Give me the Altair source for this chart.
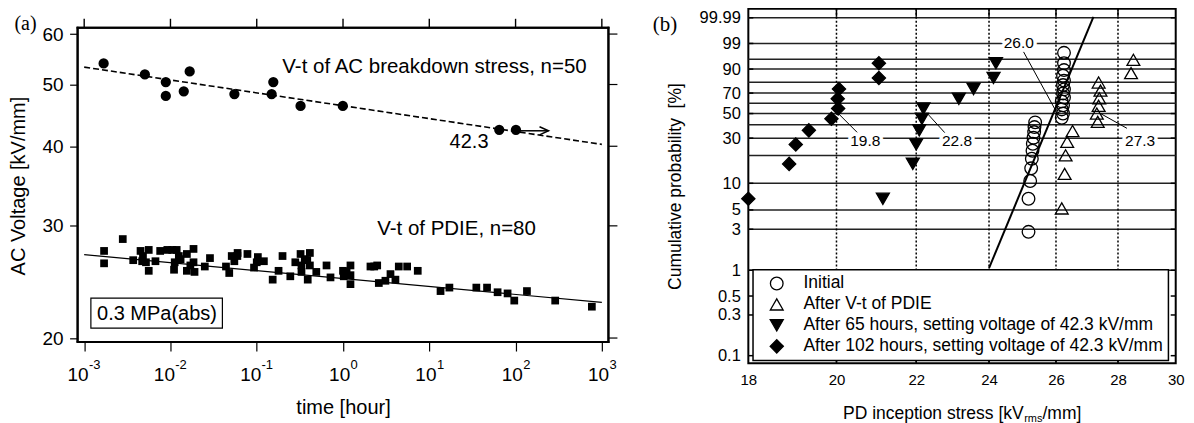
import math
import altair as alt
import pandas as pd

SANS = "Liberation Sans, Arial, Helvetica, sans-serif"
SERIF = "Liberation Serif, Times New Roman, serif"

# ================= panel (a) data =================
bd_t = [0.00168, 0.00505, 0.00883, 0.00883, 0.01426, 0.0167, 0.0551, 0.1488, 0.1556, 0.322, 0.995, 64.7, 101.0]
bd_v = [53.95, 51.86, 50.45, 47.97, 48.78, 52.42, 48.3, 48.3, 50.45, 46.27, 46.27, 42.44, 42.44]
bd_fit_t = [0.001, 1000.0]
bd_fit_v = [53.25, 40.27]

pd_t = [0.0017, 0.0017, 0.0028, 0.0037, 0.0045, 0.0047, 0.0052, 0.0056, 0.0056, 0.0067,
        0.0076, 0.0092, 0.0118, 0.0110, 0.0112, 0.0131, 0.0155, 0.0155, 0.0185, 0.0185,
        0.019, 0.025, 0.0287, 0.044, 0.048, 0.0513, 0.0596, 0.055, 0.078, 0.093,
        0.103, 0.121, 0.153, 0.179, 0.199, 0.245, 0.28, 0.322, 0.33, 0.385,
        0.39, 0.36, 0.413, 0.413, 0.49, 0.644, 0.716, 1.0, 1.02, 1.22,
        1.22, 1.22, 2.08, 2.49, 2.6, 3.1, 3.55, 4.05, 4.43, 5.54,
        7.35, 13.5, 17.1, 35.1, 46.7, 61.9, 80.8, 96.6, 135.5, 288.0,
        766.0, 0.0048, 0.0125, 0.017, 0.06, 0.33, 0.1, 1.1, 0.0105, 2.3]
pd_v = [27.4, 26.2, 28.6, 26.5, 27.4, 26.4, 26.3, 27.5, 25.5, 26.4,
        27.4, 27.5, 27.5, 25.6, 26.3, 26.6, 25.5, 27.1, 27.6, 26.3,
        25.4, 25.9, 26.7, 25.9, 25.3, 26.9, 26.9, 26.4, 27.1, 25.8,
        26.8, 26.4, 24.7, 25.5, 26.9, 25.0, 26.3, 27.1, 25.4, 26.5,
        24.7, 26.6, 27.2, 26.0, 25.4, 26.0, 24.9, 25.5, 25.0, 26.0,
        25.1, 24.3, 25.9, 26.0, 24.4, 24.6, 25.2, 24.7, 25.9, 25.9,
        25.5, 23.7, 24.0, 24.0, 24.0, 23.6, 23.5, 22.9, 23.7, 22.9,
        22.4, 26.9, 26.9, 26.0, 27.2, 26.0, 26.3, 25.4, 27.5, 25.9]
pd_fit_t = [0.001, 1000.0]
pd_fit_v = [27.03, 22.75]

arrow_t = [113.0, 241.0]
arrow_v = [42.3, 42.3]

decades = [0.001, 0.01, 0.1, 1, 10, 100, 1000]
dec_exp = ["-3", "-2", "-1", "0", "1", "2", "3"]
volt_ticks = [20, 30, 40, 50, 60]

ann_a_text = ["V-t of AC breakdown stress, n=50", "V-t of PDIE, n=80"]
ann_a_t = [0.1978, 2.488]
ann_a_v = [53.33, 29.69]
val_a_text = ["42.3"]
val_a_t = [28.9]
val_a_v = [40.68]

# ================= panel (b) data =================
series_names = ["Initial", "After V-t of PDIE",
                "After 65 hours, setting voltage of 42.3 kV/mm",
                "After 102 hours, setting voltage of 42.3 kV/mm"]

init_x = [25.16, 25.16, 25.21, 25.24, 25.26, 25.28, 25.29, 25.31, 25.33, 25.34, 25.36,
          26.18, 26.22, 26.18, 26.22, 26.18, 26.25, 26.22, 26.25, 26.22, 26.25, 26.22, 26.25, 26.25, 26.25]
init_F = [2.8, 6.7, 10.6, 14.6, 18.5, 22.4, 26.4, 30.3, 34.3, 38.2, 42.1, 46.1, 50.0,
          53.9, 57.9, 61.8, 65.7, 69.7, 73.6, 77.6, 81.5, 85.4, 89.4, 93.3, 97.2]
vt_x = [26.18, 26.27, 26.3, 26.35, 26.52, 27.33, 27.3, 27.36, 27.38, 27.42, 27.36, 28.44, 28.52]
vt_F = [5.2, 12.7, 20.1, 27.6, 35.1, 42.5, 50.0, 57.5, 64.9, 72.4, 79.9, 87.3, 94.8]
h65_x = [21.14, 21.91, 22.0, 22.08, 22.15, 22.19, 23.15, 23.56, 24.13, 24.2]
h65_F = [6.7, 16.3, 26.0, 35.6, 45.2, 54.8, 64.4, 74.0, 83.7, 93.3]
h102_x = [18.0, 18.9, 19.05, 19.35, 19.88, 20.04, 20.03, 20.06, 21.04, 21.04]
h102_F = [6.7, 16.3, 26.0, 35.6, 45.2, 54.8, 64.4, 74.0, 83.7, 93.3]

fit_x = [24.0, 27.19]
fit_F = [1.06, 99.992]

lab_text = ["19.8", "22.8", "26.0", "27.3"]
lab_x = [20.7, 23.1, 24.87, 28.75]
lab_F = [28.4, 28.4, 99.05, 28.4]
lead_x1 = [20.04, 22.29, 25.01, 27.41]
lead_F1 = [50.2, 50.2, 97.48, 50.2]
lead_x2 = [20.5, 22.82, 25.98, 28.3]
lead_F2 = [34.1, 32.2, 53.4, 37.2]

prob_grid = [99.99, 99, 95, 90, 80, 70, 60, 50, 40, 30, 20, 10, 5, 3, 1]
prob_labels = [99.99, 99, 90, 70, 50, 30, 10, 5, 3, 1, 0.5, 0.3, 0.1]
stress_ticks = [18, 20, 22, 24, 26, 28, 30]
stress_grid = [20, 22, 24, 26, 28]

# ================= layout constants =================
W1 = 531.6                 # panel (a) plot width
W2, H2 = 428.0, 355.0      # panel (b) plot size (also the cell height of panel a)
TOP1, BOT1 = 19.0, 333.7   # panel (a) plot area inside its cell
T_MIN, T_MAX = 10 ** -3.0764, 10 ** 3.0764
V_MIN, V_MAX = 19.714, 61.38
V_TICKMID = V_MAX * 10 ** (4.5 / 638.0)   # centre of the 9 px outward top ticks
FW = 1.0                                  # half frame thickness

# ================= panel (a) =================
axis_xa = alt.Axis(values=decades, labels=False, ticks=True, tickSize=9, tickWidth=1.2,
                   tickColor="black", domain=False, grid=False, offset=-(H2 - BOT1),
                   title="time [hour]", titleFont=SANS, titleFontSize=20,
                   titleFontWeight="normal", titleColor="black", titleY=66,
                   titleBaseline="middle")
X_A = alt.X("t:Q", scale=alt.Scale(type="log", domain=[T_MIN, T_MAX], nice=False), axis=axis_xa)
axis_ya = alt.Axis(values=volt_ticks, format="d", tickSize=8, tickWidth=1.2, tickColor="black",
                   domain=False, grid=False, labelFont=SANS, labelFontSize=19, labelColor="black",
                   labelPadding=6.5, labelOverlap=False, title="AC Voltage [kV/mm]", titleFont=SANS,
                   titleFontSize=20, titleFontWeight="normal", titleColor="black",
                   titleX=-59.5, titleY=177, titleBaseline="middle")
Y_A = alt.Y("v:Q", scale=alt.Scale(type="log", domain=[V_MIN, V_MAX], nice=False,
                                    range=[BOT1, TOP1]), axis=axis_ya)

df_dec = pd.DataFrame({"t": decades, "e": dec_exp})
df_volt = pd.DataFrame({"v": volt_ticks})
one = pd.DataFrame({"k": [0]})

# plot frame: closed path through the domain corners ...
df_frame = pd.DataFrame({
    "i": [0, 1, 2, 3, 4],
    "t": [T_MIN, T_MIN, T_MAX, T_MAX, T_MIN],
    "v": [V_MIN, V_MAX, V_MAX, V_MIN, V_MIN],
})
frame_line = alt.Chart(df_frame).mark_line(color="black", strokeWidth=2, strokeJoin="miter").encode(
    x=X_A, y=Y_A, order="i:Q")

# ... reinforced by four thin filled bars on the plot box edges
def bar(x1, x2, y1, y2):
    return alt.Chart(one).mark_rect(fill="black", strokeWidth=0).encode(
        x=alt.value(x1), x2=alt.value(x2), y=alt.value(y1), y2=alt.value(y2))

frame_bars = [
    bar(-FW, W1 + FW, TOP1 - FW, TOP1 + FW),
    bar(-FW, W1 + FW, BOT1 - FW, BOT1 + FW),
    bar(-FW, FW, TOP1 - FW, BOT1 + FW),
    bar(W1 - FW, W1 + FW, TOP1 - FW, BOT1 + FW),
]

# outward ticks on the top edge
top_ticks = alt.Chart(pd.DataFrame({"t": decades, "v": [V_TICKMID] * len(decades)})).mark_point(
    shape="M0,1L0,-1", filled=False, stroke="black", strokeWidth=1.4, size=81, opacity=1).encode(
    x=X_A, y=Y_A)
right_ticks = alt.Chart(df_volt).mark_rule(color="black", strokeWidth=1.2).encode(
    y=Y_A, x=alt.value(W1), x2=alt.value(W1 + 9))

bd_fit = alt.Chart(pd.DataFrame({"t": bd_fit_t, "v": bd_fit_v})).mark_line(
    color="black", strokeWidth=1.6, strokeDash=[6, 3]).encode(x=X_A, y=Y_A)
pd_fit = alt.Chart(pd.DataFrame({"t": pd_fit_t, "v": pd_fit_v})).mark_line(
    color="black", strokeWidth=1.2).encode(x=X_A, y=Y_A)
bd_pts = alt.Chart(pd.DataFrame({"t": bd_t, "v": bd_v})).mark_circle(
    color="black", size=106, opacity=1).encode(x=X_A, y=Y_A)
pd_pts = alt.Chart(pd.DataFrame({"t": pd_t, "v": pd_v})).mark_square(
    color="black", size=60, opacity=1).encode(x=X_A, y=Y_A)

df_arrow = pd.DataFrame({"t": arrow_t, "v": arrow_v})
arrow_line = alt.Chart(df_arrow).mark_line(color="black", strokeWidth=1.5).encode(x=X_A, y=Y_A)
arrow_head = alt.Chart(df_arrow.tail(1)).mark_point(
    shape="M-1,-0.45L0,0L-1,0.45", filled=False, stroke="black", strokeWidth=1.5,
    size=324, opacity=1).encode(x=X_A, y=Y_A)

ann_a = alt.Chart(pd.DataFrame({"t": ann_a_t, "v": ann_a_v, "s": ann_a_text})).mark_text(
    font=SANS, fontSize=20.5, align="left", baseline="middle", color="black").encode(
    x=X_A, y=Y_A, text="s:N")
val_a = alt.Chart(pd.DataFrame({"t": val_a_t, "v": val_a_v, "s": val_a_text})).mark_text(
    font=SANS, fontSize=20, align="center", baseline="middle", color="black").encode(
    x=X_A, y=Y_A, text="s:N")

box_rect = alt.Chart(one).mark_rect(fill="white", stroke="black", strokeWidth=1.2).encode(
    x=alt.value(13.3), x2=alt.value(145), y=alt.value(TOP1 + 270.7), y2=alt.value(TOP1 + 300.7))
box_text = alt.Chart(pd.DataFrame({"s": ["0.3 MPa(abs)"]})).mark_text(
    font=SANS, fontSize=20, align="center", baseline="middle", color="black").encode(
    x=alt.value(79.5), y=alt.value(TOP1 + 286.5), text="s:N")

neg = df_dec[df_dec["e"].str.startswith("-")]
pos = df_dec[~df_dec["e"].str.startswith("-")]
lab10_neg = alt.Chart(neg.assign(b="10")).mark_text(
    font=SANS, fontSize=19, align="right", baseline="middle", dx=4.5, color="black").encode(
    x=X_A, y=alt.value(BOT1 + 32.6), text="b:N")
labe_neg = alt.Chart(neg).mark_text(
    font=SANS, fontSize=13, align="left", baseline="middle", dx=4.8, color="black").encode(
    x=X_A, y=alt.value(BOT1 + 22.6), text="e:N")
lab10_pos = alt.Chart(pos.assign(b="10")).mark_text(
    font=SANS, fontSize=19, align="right", baseline="middle", dx=7.2, color="black").encode(
    x=X_A, y=alt.value(BOT1 + 32.6), text="b:N")
labe_pos = alt.Chart(pos).mark_text(
    font=SANS, fontSize=13, align="left", baseline="middle", dx=7.6, color="black").encode(
    x=X_A, y=alt.value(BOT1 + 22.6), text="e:N")

tag_a = alt.Chart(pd.DataFrame({"s": ["(a)"]})).mark_text(
    font=SERIF, fontSize=20, align="center", baseline="middle", color="black").encode(
    x=alt.value(-52.2), y=alt.value(15), text="s:N")

anchor_a1 = alt.Chart(one).mark_square(color="white", size=1, opacity=1).encode(
    x=alt.value(-79.5), y=alt.value(-2.5))
anchor_a2 = alt.Chart(one).mark_square(color="white", size=1, opacity=1).encode(
    x=alt.value(W1 + 11.5), y=alt.value(100))

left = alt.layer(
    top_ticks, right_ticks, bd_fit, pd_fit, bd_pts, pd_pts, arrow_line, arrow_head,
    ann_a, val_a, box_rect, box_text, lab10_neg, labe_neg, lab10_pos, labe_pos,
    frame_line, *frame_bars, tag_a, anchor_a1, anchor_a2
).properties(width=W1, height=H2,
             view=alt.ViewBackground(stroke="transparent", fill="white"))

# ================= panel (b) =================
def weib(p):
    return math.log(-math.log(1 - p / 100.0))

CALC = "log(-log(1 - datum.F/100))"

axis_xb = alt.Axis(values=stress_ticks, format="d", ticks=False, tickSize=0, domain=False,
                   grid=False, labelFont=SANS, labelFontSize=15, labelColor="black",
                   labelPadding=9, labelFlush=False, labelOverlap=False, title=None)
X_B = alt.X("x:Q", scale=alt.Scale(type="log", domain=[18, 30], nice=False), axis=axis_xb)
axis_yb = alt.Axis(values=[weib(p) for p in prob_labels],
                   labelExpr="format(100*(1-exp(-exp(datum.value))), '.4~r')",
                   ticks=False, tickSize=0, domain=False, grid=False, labelFont=SANS,
                   labelFontSize=16.5, labelColor="black", labelPadding=8, labelOverlap=False,
                   title="Cumulative probability\u00a0 [%]", titleFont=SANS, titleFontSize=17.5,
                   titleFontWeight="normal", titleColor="black", titleX=-73.3,
                   titleBaseline="middle")
Y_B = alt.Y("yw:Q", scale=alt.Scale(domain=[-7.113, 2.463], nice=False, zero=False), axis=axis_yb)

hgrid = alt.Chart(pd.DataFrame({"F": prob_grid})).transform_calculate(yw=CALC).mark_rule(
    color="#222222", strokeWidth=1.5).encode(y=Y_B, x=alt.value(0), x2=alt.value(W2))
vgrid = alt.Chart(pd.DataFrame({"x": stress_grid})).mark_rule(
    color="black", strokeWidth=1.5, strokeDash=[2, 2]).encode(
    x=X_B, y=alt.value(0), y2=alt.value(H2))
tick_top = alt.Chart(pd.DataFrame({"x": stress_grid})).mark_rule(
    color="black", strokeWidth=1.5).encode(x=X_B, y=alt.value(0), y2=alt.value(8))
tick_bot = alt.Chart(pd.DataFrame({"x": stress_grid})).mark_rule(
    color="black", strokeWidth=1.5).encode(x=X_B, y=alt.value(H2 - 7), y2=alt.value(H2))
df_pl = pd.DataFrame({"F": prob_labels})
tick_l = alt.Chart(df_pl).transform_calculate(yw=CALC).mark_rule(
    color="black", strokeWidth=1.5).encode(y=Y_B, x=alt.value(0), x2=alt.value(5))
tick_r = alt.Chart(df_pl).transform_calculate(yw=CALC).mark_rule(
    color="black", strokeWidth=1.5).encode(y=Y_B, x=alt.value(W2 - 5), x2=alt.value(W2))

fit_line = alt.Chart(pd.DataFrame({"x": fit_x, "F": fit_F})).transform_calculate(
    yw=CALC).mark_line(color="black", strokeWidth=2).encode(x=X_B, y=Y_B)

leaders = alt.Chart(pd.DataFrame({"x": lead_x1, "F": lead_F1, "x2": lead_x2, "F2": lead_F2})
                    ).transform_calculate(yw=CALC, yw2="log(-log(1 - datum.F2/100))").mark_rule(
    color="black", strokeWidth=1).encode(x=X_B, x2="x2:Q", y=Y_B, y2="yw2:Q")

df_lab = pd.DataFrame({"x": lab_x, "F": lab_F, "s": lab_text})
lab_halo = alt.Chart(df_lab).transform_calculate(yw=CALC).mark_text(
    font=SANS, fontSize=15.5, align="center", baseline="middle", fill="white",
    stroke="white", strokeWidth=7, strokeJoin="round").encode(x=X_B, y=Y_B, text="s:N")
lab_txt = alt.Chart(df_lab).transform_calculate(yw=CALC).mark_text(
    font=SANS, fontSize=15.5, align="center", baseline="middle", color="black").encode(
    x=X_B, y=Y_B, text="s:N")

df_pts = pd.concat([
    pd.DataFrame({"x": init_x, "F": init_F, "series": series_names[0]}),
    pd.DataFrame({"x": vt_x, "F": vt_F, "series": series_names[1]}),
    pd.DataFrame({"x": h65_x, "F": h65_F, "series": series_names[2]}),
    pd.DataFrame({"x": h102_x, "F": h102_F, "series": series_names[3]}),
], ignore_index=True)

leg = alt.Legend(title=None)
pts = alt.Chart(df_pts).transform_calculate(yw=CALC).mark_point(
    opacity=1, strokeWidth=1.3).encode(
    x=X_B, y=Y_B,
    shape=alt.Shape("series:N", scale=alt.Scale(
        domain=series_names, range=["circle", "triangle-up", "triangle-down", "diamond"]),
        legend=leg),
    fill=alt.Fill("series:N", scale=alt.Scale(
        domain=series_names, range=["transparent", "transparent", "black", "black"]),
        legend=leg),
    stroke=alt.Stroke("series:N", scale=alt.Scale(
        domain=series_names, range=["black", "black", "black", "black"]),
        legend=leg),
    size=alt.Size("series:N", scale=alt.Scale(
        domain=series_names, range=[160, 175, 200, 250]),
        legend=leg),
)

tag_b = alt.Chart(pd.DataFrame({"s": ["(b)"]})).mark_text(
    font=SERIF, fontSize=21, align="center", baseline="middle", color="black").encode(
    x=alt.value(-83.5), y=alt.value(16), text="s:N")

xt_main = alt.Chart(pd.DataFrame({"s": ["PD inception stress [kV"]})).mark_text(
    font=SANS, fontSize=17.5, align="right", baseline="middle", color="black").encode(
    x=alt.value(275.7), y=alt.value(405.5), text="s:N")
xt_sub = alt.Chart(pd.DataFrame({"s": ["rms"]})).mark_text(
    font=SANS, fontSize=11, align="left", baseline="middle", color="black").encode(
    x=alt.value(276.2), y=alt.value(410.5), text="s:N")
xt_end = alt.Chart(pd.DataFrame({"s": ["/mm]"]})).mark_text(
    font=SANS, fontSize=17.5, align="left", baseline="middle", color="black").encode(
    x=alt.value(294.6), y=alt.value(405.5), text="s:N")

anchor_b = alt.Chart(one).mark_square(color="white", size=1, opacity=1).encode(
    x=alt.value(-99.5), y=alt.value(-2.5))

right = alt.layer(
    hgrid, vgrid, tick_top, tick_bot, tick_l, tick_r, fit_line, leaders, lab_halo, lab_txt,
    pts, tag_b, xt_main, xt_sub, xt_end, anchor_b
).properties(width=W2, height=H2,
             view=alt.ViewBackground(stroke="black", strokeWidth=2, fill="white"))

chart = alt.hconcat(left, right, spacing=25.7).resolve_legend(
    shape="independent", fill="independent", stroke="independent", size="independent"
).properties(
    padding={"left": -11.3, "top": -3.5, "right": 0, "bottom": 4},
    background="white",
).configure_legend(
    orient="none", legendX=4.7, legendY=261.3, direction="vertical",
    fillColor="white", strokeColor="black", strokeWidth=1.5, padding=5,
    labelFont=SANS, labelFontSize=17.5, labelColor="black", labelLimit=600,
    symbolStrokeWidth=1.3, symbolOffset=10, labelOffset=18, rowPadding=2,
)

chart.save("out.html", embed_options={"renderer": "svg", "actions": False})
